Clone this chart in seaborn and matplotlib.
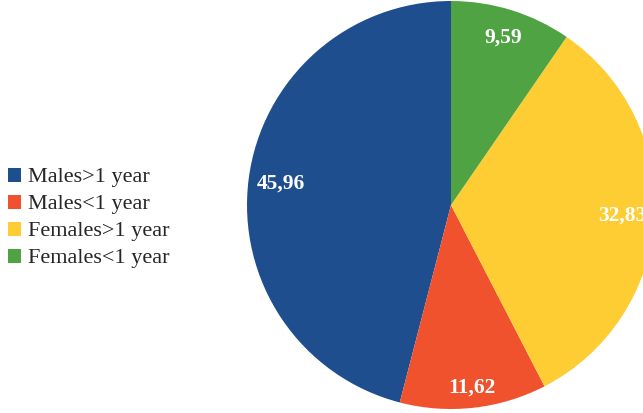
import numpy as np
import matplotlib
matplotlib.use("Agg")
import matplotlib.pyplot as plt
import seaborn as sns

categories = ["Males>1 year", "Males<1 year", "Females>1 year", "Females<1 year"]
shares = [45.96, 11.62, 32.83, 9.59]
value_labels = ["45,96", "11,62", "32,83", "9,59"]
colors = sns.color_palette(["#1f4e8f", "#ef522d", "#fdcd33", "#4fa343"])
label_radii = [0.84, 0.90, 0.84, 0.86]

sns.set_theme(style="white")
plt.rcParams["font.family"] = ["Liberation Serif", "DejaVu Serif"]

W, H = 643, 413
fig = plt.figure(figsize=(W / 100, H / 100), dpi=100)
ax = fig.add_axes([0, 0, 1, 1])

wedges, _ = ax.pie(shares, colors=colors, startangle=90, counterclock=True,
                   radius=1.0, wedgeprops=dict(linewidth=0))

# pixel layout: pie centre at (451, 205) px, radius 204 px
cx, cy, r = 451, 205, 204
ax.set_xlim(-cx / r, (W - cx) / r)
ax.set_ylim(-(H - cy) / r, cy / r)
ax.set_aspect("equal", adjustable="datalim")
ax.axis("off")

for w, lab, d in zip(wedges, value_labels, label_radii):
    ang = np.deg2rad((w.theta1 + w.theta2) / 2)
    ax.text(d * np.cos(ang), d * np.sin(ang), lab, ha="center", va="center",
            color="white", fontsize=15.5, fontweight="bold")

fig.legend(wedges, categories, loc="center left",
           bbox_to_anchor=(8 / W, 1 - 218 / H), frameon=False,
           fontsize=16, handlelength=0.6, handleheight=0.6,
           handletextpad=0.3, labelspacing=0.32,
           borderpad=0, borderaxespad=0)

fig.savefig("out.png", dpi=100)
